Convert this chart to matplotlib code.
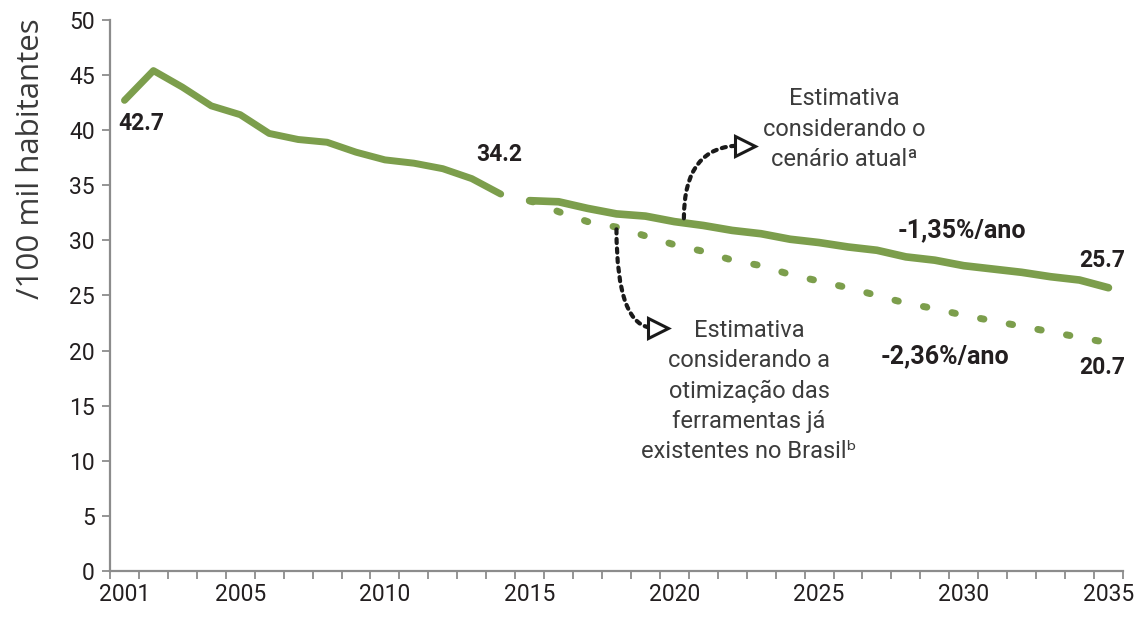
import matplotlib
matplotlib.use('Agg')
import matplotlib.pyplot as plt

# data
hist_years = list(range(2001, 2015))
hist_vals = [42.7, 45.4, 43.9, 42.2, 41.4, 39.7, 39.15, 38.9, 38.0, 37.3, 37.0, 36.5, 35.6, 34.2]

proj_years = list(range(2015, 2036))
cur_vals = [33.6, 33.5, 32.9, 32.4, 32.2, 31.7, 31.35, 30.9, 30.6, 30.1, 29.8,
            29.4, 29.1, 28.5, 28.2, 27.7, 27.4, 27.1, 26.7, 26.4, 25.7]
opt_vals = [33.6, 32.6, 31.7, 31.2, 30.4, 29.6, 29.0, 28.2, 27.7, 26.9, 26.3,
            25.7, 25.0, 24.3, 23.8, 23.2, 22.7, 22.2, 21.7, 21.2, 20.7]

xtick_years = [2001, 2005, 2010, 2015, 2020, 2025, 2030, 2035]
yticks = list(range(0, 55, 5))

plt.rcParams['font.family'] = ['Roboto', 'DejaVu Sans']

GREEN = '#7c9e4c'
TXT = '#231f20'
GREY = '#8c8c8c'
fs = 16.5

fig = plt.figure(figsize=(11.4, 6.22), dpi=100)
ax = fig.add_axes([0.0965, 0.082, 0.8885, 0.886])

ax.plot(hist_years, hist_vals, color=GREEN, lw=5, solid_capstyle='round', solid_joinstyle='round', zorder=3)
ax.plot(proj_years, opt_vals, color=GREEN, lw=5, linestyle=(0, (0.5, 3.7)),
        dash_capstyle='round', zorder=2)
ax.plot(proj_years, cur_vals, color=GREEN, lw=5.5, solid_capstyle='round', solid_joinstyle='round', zorder=3)

ax.set_xlim(2000.5, 2035.5)
ax.set_ylim(0, 50)
ax.set_xticks([y - 0.5 for y in range(2001, 2037)], minor=True)
ax.set_xticks(xtick_years)
ax.set_xticklabels([str(y) for y in xtick_years], fontsize=fs, color=TXT)
ax.tick_params(axis='x', which='major', length=0, pad=9)
ax.tick_params(axis='x', which='minor', length=6, width=1.3, color=GREY)
ax.set_yticks(yticks)
ax.set_yticklabels([str(v) for v in yticks], fontsize=fs, color=TXT)
ax.tick_params(axis='y', length=6, width=1.3, color=GREY, pad=5)

for s in ['top', 'right']:
    ax.spines[s].set_visible(False)
for s in ['left', 'bottom']:
    ax.spines[s].set_color(GREY)
    ax.spines[s].set_linewidth(1.6)

fig.text(0.027, 0.745, '/100 mil habitantes', rotation=90, ha='center', va='center',
         fontsize=22.5, color='#3a3a3a', family=['Open Sans', 'DejaVu Sans'])

# value labels
bold = dict(fontsize=fs, fontweight='bold', color=TXT, ha='center', va='center')
ax.text(2001.57, 40.6, f'{hist_vals[0]}', **bold)
ax.text(2013.94, 37.75, f'{hist_vals[-1]}', **bold)
ax.text(2034.78, 28.2, f'{cur_vals[-1]}', **bold)
ax.text(2034.78, 18.5, f'{opt_vals[-1]}', **bold)
pct = dict(bold, fontsize=18)
ax.text(2029.94, 30.9, '-1,35%/ano', **pct)
ax.text(2029.35, 19.5, '-2,36%/ano', **pct)

# annotation texts
note = dict(fontsize=17, color='#3c3c3c', ha='center', va='center', linespacing=1.4)
ax.text(2025.86, 40.1, 'Estimativa\nconsiderando o\ncenário atualª', **note)
ax.text(2022.58, 16.3, 'Estimativa\nconsiderando a\notimização das\nferramentas já\nexistentes no Brasilᵇ', **note)

# dotted curved arrows
for start, end in [((2020.33, 32.0), (2022.3, 38.6)), ((2018.0, 31.0), (2019.3, 22.05))]:
    ax.annotate('', xy=end, xytext=start,
                arrowprops=dict(arrowstyle='-', color='#1a1a1a', lw=3, linestyle=(0, (1, 1.3)),
                                connectionstyle='angle3,angleA=90,angleB=0', shrinkA=0, shrinkB=0),
                zorder=4)
    ax.plot([end[0] + 0.15], [end[1]], marker='>', ms=14, mfc='white', mec='#1a1a1a', mew=2.2, zorder=5)

fig.savefig('out.png', dpi=100)
